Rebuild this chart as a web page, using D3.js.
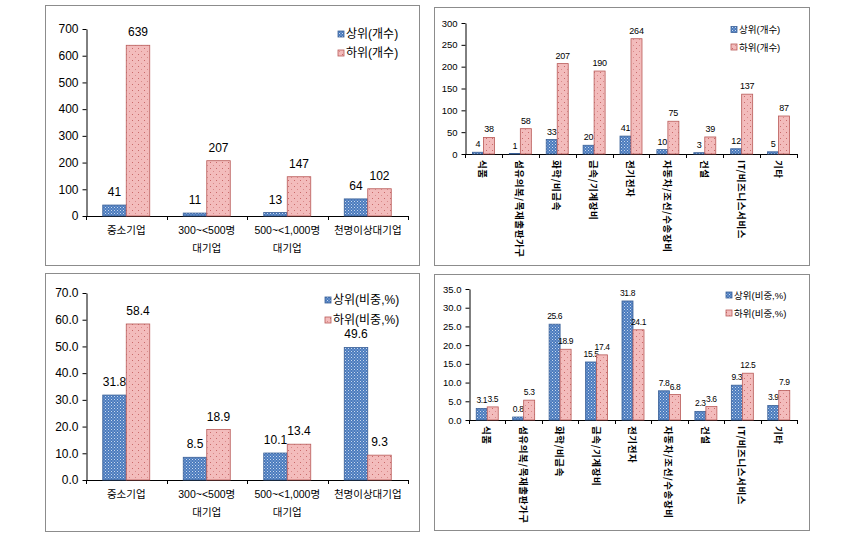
<!DOCTYPE html>
<html><head><meta charset="utf-8">
<script src="https://cdn.jsdelivr.net/npm/d3@7/dist/d3.min.js"></script>
<style>
body{margin:0;background:#fff;}
svg{display:block;font-family:"Liberation Sans","Noto Sans CJK KR",sans-serif;}
</style></head><body>
<svg id="c" width="848" height="536"></svg>
<script>
// ---- data ----
const sizeCategories = [["중소기업"], ["300~<500명", "대기업"], ["500~<1,000명", "대기업"], ["천명이상대기업"]];
const sizeUpperCount = [41, 11, 13, 64];
const sizeLowerCount = [639, 207, 147, 102];
const sizeUpperPct = [31.8, 8.5, 10.1, 49.6];
const sizeLowerPct = [58.4, 18.9, 13.4, 9.3];
const industryCategories = ["식품", "섬유의복/목재출판가구", "화학/비금속", "금속/기계장비", "전기전자", "자동차/조선/수송장비", "건설", "IT/비즈니스서비스", "기타"];
const indUpperCount = [4, 1, 33, 20, 41, 10, 3, 12, 5];
const indLowerCount = [38, 58, 207, 190, 264, 75, 39, 137, 87];
const indUpperPct = [3.1, 0.8, 25.6, 15.5, 31.8, 7.8, 2.3, 9.3, 3.9];
const indLowerPct = [3.5, 5.3, 18.9, 17.4, 24.1, 6.8, 3.6, 12.5, 7.9];
const countTicks = [0, 100, 200, 300, 400, 500, 600, 700];
const indCountTicks = [0, 50, 100, 150, 200, 250, 300];
const pctTicks = [0, 10, 20, 30, 40, 50, 60, 70];
const indPctTicks = [0, 5, 10, 15, 20, 25, 30, 35];
const legendCount = ["상위(개수)", "하위(개수)"];
const legendPct = ["상위(비중,%)", "하위(비중,%)"];

const svg = d3.select("#c");
const defs = svg.append("defs");
// blue dotted pattern
const pb = defs.append("pattern").attr("id","pb").attr("patternUnits","userSpaceOnUse").attr("width",3).attr("height",3);
pb.append("rect").attr("width",3).attr("height",3).attr("fill","#4a7bbd");
pb.append("rect").attr("x",0).attr("y",0).attr("width",1).attr("height",1).attr("fill","#c9d8ef");
pb.append("rect").attr("x",1.5).attr("y",1.5).attr("width",1).attr("height",1).attr("fill","#a9c0e4");
// red dotted pattern
const pr = defs.append("pattern").attr("id","pr").attr("patternUnits","userSpaceOnUse").attr("width",6).attr("height",6);
pr.append("rect").attr("width",6).attr("height",6).attr("fill","#f3bcbc");
pr.append("rect").attr("x",0).attr("y",0).attr("width",1).attr("height",1).attr("fill","#c96a6a");
pr.append("rect").attr("x",3).attr("y",3).attr("width",1).attr("height",1).attr("fill","#d98a8a");

function panel(o){
  const g = svg.append("g");
  g.append("rect").attr("x",o.box[0]+0.5).attr("y",o.box[1]+0.5)
    .attr("width",o.box[2]-o.box[0]).attr("height",o.box[3]-o.box[1])
    .attr("fill","#fff").attr("stroke","#8c8c8c").attr("stroke-width",1);
  const x = d3.scaleBand().domain(d3.range(o.cats.length)).range([o.x0,o.x1]).padding(0);
  const y = d3.scaleLinear().domain([0,o.max]).range([o.yb,o.yt]);
  // y axis
  const ya = g.append("g").attr("transform",`translate(${o.x0+0.5},0)`)
    .call(d3.axisLeft(y).tickValues(o.ticks).tickSize(4).tickSizeOuter(0).tickFormat(o.fmt).tickPadding(4));
  ya.select(".domain").attr("stroke","#000");
  ya.selectAll("line").attr("stroke","#000");
  ya.selectAll("text").attr("font-size",o.fs).attr("fill","#000")
    .attr("font-family","Liberation Sans, sans-serif");
  // x axis line + boundary ticks
  const xa = g.append("g");
  xa.append("line").attr("x1",o.x0).attr("x2",o.x1).attr("y1",o.yb+0.5).attr("y2",o.yb+0.5).attr("stroke","#000");
  d3.range(o.cats.length+1).forEach(i=>{
    const xx = i<o.cats.length ? x(i) : o.x1;
    xa.append("line").attr("x1",Math.round(xx)+0.5).attr("x2",Math.round(xx)+0.5).attr("y1",o.yb).attr("y2",o.yb+4).attr("stroke","#000");
  });
  // bars
  const bw = o.bw, off = (x.bandwidth()-2*bw)/2;
  const series = [{v:o.up,f:"url(#pb)",s:"#3b6097"},{v:o.lo,f:"url(#pr)",s:"#b85a58"}];
  series.forEach((s,si)=>{
    g.append("g").selectAll("rect").data(s.v).join("rect")
      .attr("x",(d,i)=>x(i)+off+si*bw).attr("y",d=>y(d)).attr("width",bw).attr("height",d=>y(0)-y(d))
      .attr("fill",s.f).attr("stroke",s.s).attr("stroke-width",0.8);
    g.append("g").selectAll("text").data(s.v).join("text")
      .attr("x",(d,i)=>x(i)+off+si*bw+bw/2).attr("y",d=>y(d)-o.lblOff)
      .attr("text-anchor","middle").attr("font-size",o.dfs).attr("fill","#000")
      .attr("letter-spacing",o.dls)
      .attr("font-family","Liberation Sans, sans-serif")
      .text(d=>o.fmt(d));
  });
  // category labels
  if(o.vertical){
    g.append("g").selectAll("text").data(o.cats).join("text")
      .attr("transform",(d,i)=>`translate(${x(i)+x.bandwidth()/2},${o.yb+6}) rotate(90)`)
      .attr("dominant-baseline","central").attr("font-size",o.cfs).attr("font-weight","bold")
      .attr("letter-spacing",0.6)
      .attr("font-family","Noto Sans CJK KR, sans-serif").attr("fill","#000").text(d=>d);
  } else {
    const t = g.append("g").selectAll("text").data(o.cats).join("text")
      .attr("x",(d,i)=>x(i)+x.bandwidth()/2).attr("y",o.yb+18)
      .attr("text-anchor","middle").attr("font-size",o.cfs).attr("fill","#000")
      .attr("font-family","Liberation Sans, Noto Sans CJK KR, sans-serif");
    t.each(function(d){
      const el=d3.select(this);
      d.forEach((ln,k)=>el.append("tspan").attr("x",el.attr("x")).attr("dy",k===0?0:18).text(ln));
    });
  }
  // legend
  o.leg.forEach((l,i)=>{
    const ly = o.legY[i];
    g.append("rect").attr("x",o.legX).attr("y",ly-3).attr("width",6).attr("height",6)
      .attr("fill",i===0?"url(#pb)":"url(#pr)").attr("stroke",i===0?"#3b6097":"#b85a58").attr("stroke-width",0.8);
    g.append("text").attr("x",o.legX+8).attr("y",ly).attr("dominant-baseline","central")
      .attr("font-size",o.lfs).attr("font-family","Liberation Sans, Noto Sans CJK KR, sans-serif")
      .attr("fill","#000").text(l);
  });
}

const f0 = d3.format("d"), f1 = d3.format(".1f");
panel({box:[45,5,419,265],x0:86,x1:408,yb:216,yt:29,max:700,ticks:countTicks,fmt:f0,
  cats:sizeCategories,up:sizeUpperCount,lo:sizeLowerCount,bw:23.5,lblOff:9,fs:12,dfs:12,dls:0,cfs:10.5,
  leg:legendCount,legX:338,legY:[34,53],lfs:12,vertical:false});
panel({box:[45,273,419,531],x0:86,x1:408,yb:480,yt:293,max:70,ticks:pctTicks,fmt:f1,
  cats:sizeCategories,up:sizeUpperPct,lo:sizeLowerPct,bw:23.5,lblOff:9,fs:12,dfs:12,dls:0,cfs:10.5,
  leg:legendPct,legX:325,legY:[300,320],lfs:12,vertical:false});
panel({box:[434,7,809,265],x0:465,x1:797,yb:154,yt:23,max:300,ticks:indCountTicks,fmt:f0,
  cats:industryCategories,up:indUpperCount,lo:indLowerCount,bw:11,lblOff:5,fs:9.5,dfs:9,dls:-0.2,cfs:9.5,
  leg:legendCount,legX:731,legY:[29.5,47],lfs:9.5,vertical:true});
panel({box:[434,274,809,530],x0:469,x1:797,yb:420,yt:289,max:35,ticks:indPctTicks,fmt:f1,
  cats:industryCategories,up:indUpperPct,lo:indLowerPct,bw:11,lblOff:5,fs:9.5,dfs:8.5,dls:-0.4,cfs:9.5,
  leg:legendPct,legX:726,legY:[295,313],lfs:9.5,vertical:true});
</script></body></html>
